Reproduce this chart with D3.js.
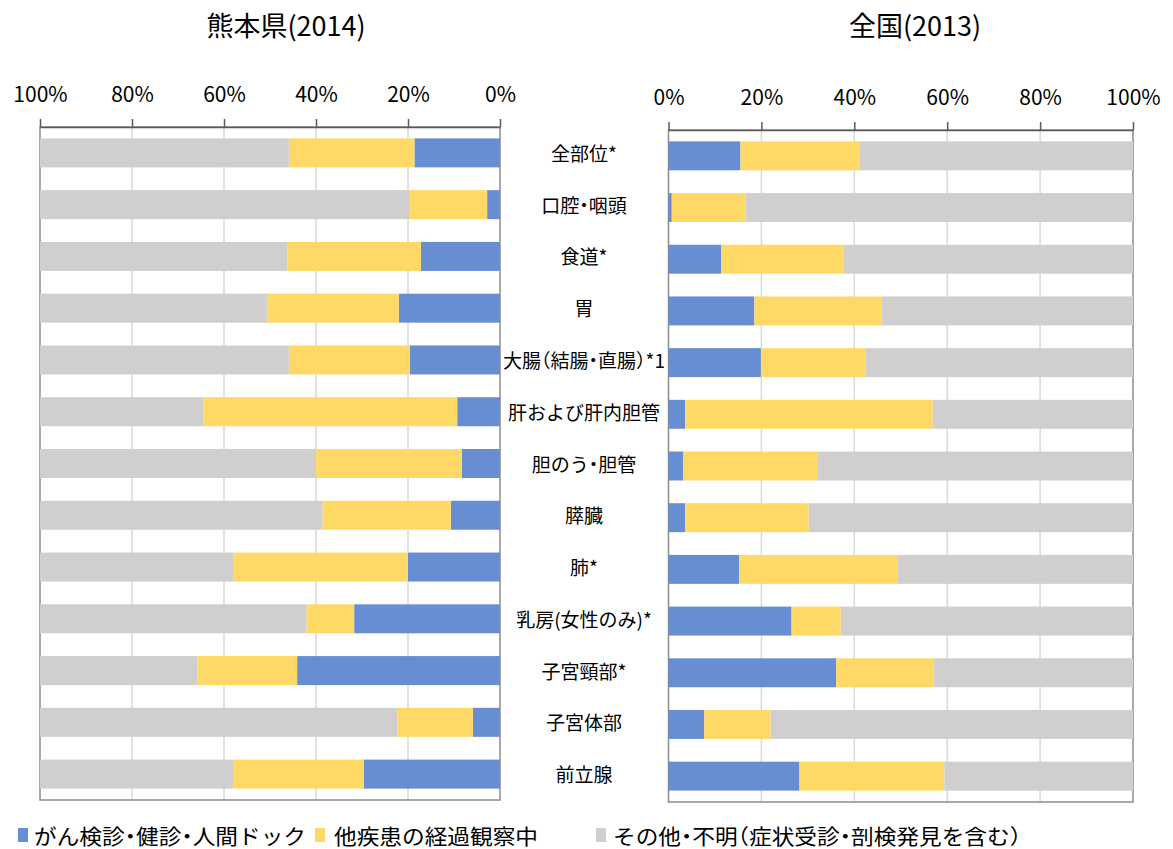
<!DOCTYPE html>
<html lang="ja">
<head>
<meta charset="utf-8">
<script src="https://cdn.jsdelivr.net/npm/d3@7"></script>
<style>
  html, body { margin: 0; padding: 0; background: #fff; }
  svg { display: block; font-family: "Noto Sans CJK JP", "Noto Sans", sans-serif; }
</style>
</head>
<body>
<svg id="chart" width="1173" height="849"></svg>
<script>
// 部位 (top to bottom)
const categories = [
  "全部位*", "口腔・咽頭", "食道*", "胃", "大腸（結腸・直腸）*1", "肝および肝内胆管",
  "胆のう・胆管", "膵臓", "肺*", "乳房(女性のみ)*", "子宮頸部*", "子宮体部", "前立腺"
];

// 発見経緯の割合 (%) — 熊本県 (2014)
const kumamotoScreening = [18.6, 2.8, 17.2, 22.0, 19.6, 9.3, 8.3, 10.7, 20.0, 31.7, 44.1, 5.9, 29.6];
const kumamotoFollowUp  = [27.3, 17.0, 29.0, 28.7, 26.3, 55.2, 31.7, 27.9, 37.9, 10.4, 21.7, 16.4, 28.3];
const kumamotoOther     = [54.1, 80.2, 53.8, 49.3, 54.1, 35.5, 60.0, 61.4, 42.1, 57.9, 34.2, 77.7, 42.1];

// 発見経緯の割合 (%) — 全国 (2013)
const nationalScreening = [15.5, 0.7, 11.3, 18.5, 19.9, 3.6, 3.2, 3.6, 15.2, 26.5, 36.1, 7.7, 28.2];
const nationalFollowUp  = [25.7, 15.9, 26.5, 27.4, 22.6, 53.3, 28.8, 26.6, 34.2, 10.6, 21.1, 14.3, 31.2];
const nationalOther     = [58.8, 83.4, 62.2, 54.1, 57.5, 43.1, 68.0, 69.8, 50.6, 62.9, 42.8, 78.0, 40.6];

// 凡例
const seriesKeys   = ["screening", "followUp", "other"];
const seriesLabels = ["がん検診・健診・人間ドック", "他疾患の経過観察中", "その他・不明（症状受診・剖検発見を含む）"];
const seriesColors = ["#678ED2", "#FFD966", "#D0CECE"];

// 軸目盛
const tickValues = [0, 20, 40, 60, 80, 100];
const tickLabels = ["0%", "20%", "40%", "60%", "80%", "100%"];

const panelTitles = ["熊本県(2014)", "全国(2013)"];

const svg = d3.select("#chart");
const color = d3.scaleOrdinal().domain(seriesKeys).range(seriesColors);

function buildRows(screening, followUp, other) {
  return categories.map((c, i) => ({
    category: c, screening: screening[i], followUp: followUp[i], other: other[i]
  }));
}

// Japanese text with half-width punctuation runs
const PUNCT = /[（）・]/;
function appendText(sel, str) {
  const parts = str.match(/[（）・]+|[^（）・]+/g) || [];
  parts.forEach(p => {
    sel.append("tspan")
      .text(p)
      .style("font-feature-settings", PUNCT.test(p) ? '"halt"' : "normal");
  });
}

const panels = [
  { title: panelTitles[0], rows: buildRows(kumamotoScreening, kumamotoFollowUp, kumamotoOther),
    xRange: [500, 40], yRange: [127, 800], titleX: 286 },
  { title: panelTitles[1], rows: buildRows(nationalScreening, nationalFollowUp, nationalOther),
    xRange: [668.5, 1133], yRange: [130, 802], titleX: 915 }
];

const stack = d3.stack().keys(seriesKeys);

panels.forEach((p, pi) => {
  const x = d3.scaleLinear().domain([0, 100]).range(p.xRange);
  const y = d3.scaleBand().domain(categories).range(p.yRange)
    .paddingInner(0.44).paddingOuter(0.22);
  const g = svg.append("g");
  const x0 = Math.min(...p.xRange), x1 = Math.max(...p.xRange);

  // vertical gridlines
  g.append("g").selectAll("line")
    .data(tickValues.filter(v => v > 0 && v < 100))
    .join("line")
    .attr("x1", d => x(d)).attr("x2", d => x(d))
    .attr("y1", p.yRange[0]).attr("y2", p.yRange[1])
    .attr("stroke", "#D9D9D9").attr("stroke-width", 1.5);

  // plot area frame
  g.append("rect")
    .attr("x", x0).attr("y", p.yRange[0])
    .attr("width", x1 - x0).attr("height", p.yRange[1] - p.yRange[0])
    .attr("fill", "none").attr("stroke", "#8C8C8C").attr("stroke-width", 1.5);

  // stacked bars
  const layers = stack(p.rows);
  g.append("g").selectAll("g")
    .data(layers)
    .join("g")
    .attr("fill", d => color(d.key))
    .selectAll("rect")
    .data(d => d)
    .join("rect")
    .attr("x", d => Math.min(x(d[0]), x(d[1])))
    .attr("width", d => Math.abs(x(d[1]) - x(d[0])))
    .attr("y", d => y(d.data.category))
    .attr("height", y.bandwidth());

  // top axis
  const axis = d3.axisTop(x)
    .tickValues(tickValues)
    .tickFormat(d => tickLabels[tickValues.indexOf(d)])
    .tickSize(8)
    .tickPadding(17)
    .tickSizeOuter(0);
  const ag = g.append("g")
    .attr("transform", `translate(0,${p.yRange[0]})`)
    .call(axis);
  ag.select(".domain").attr("stroke", "#595959").attr("stroke-width", 1.5);
  ag.selectAll(".tick line").attr("stroke", "#595959").attr("stroke-width", 1.5);
  ag.selectAll(".tick text")
    .attr("fill", "#000")
    .style("font-family", '"Noto Sans CJK JP", sans-serif')
    .style("font-size", "21px");

  // panel title
  svg.append("text")
    .attr("x", p.titleX).attr("y", 36)
    .attr("text-anchor", "middle")
    .style("font-size", "27px")
    .attr("fill", "#000")
    .text(p.title);

  // category labels (shared, placed from the left panel's bands)
  if (pi === 0) {
    const lg = svg.append("g");
    categories.forEach(c => {
      const t = lg.append("text")
        .attr("x", 584)
        .attr("y", y(c) + y.bandwidth() / 2 - 1)
        .attr("dominant-baseline", "central")
        .attr("text-anchor", "middle")
        .style("font-size", "19px")
        .attr("fill", "#000");
      appendText(t, c);
    });
  }
});

// legend
const legendSwatchX = [18, 315, 596];
const legendTextX = [34, 334, 613];
const lg = svg.append("g");
seriesKeys.forEach((k, i) => {
  lg.append("rect")
    .attr("x", legendSwatchX[i]).attr("y", 828)
    .attr("width", 10).attr("height", 14)
    .attr("fill", color(k));
  const t = lg.append("text")
    .attr("transform", `translate(${legendTextX[i]},834) scale(1.08,1)`)
    .attr("dominant-baseline", "central")
    .style("font-size", "21px")
    .attr("fill", "#000");
  appendText(t, seriesLabels[i]);
});
</script>
</body>
</html>
